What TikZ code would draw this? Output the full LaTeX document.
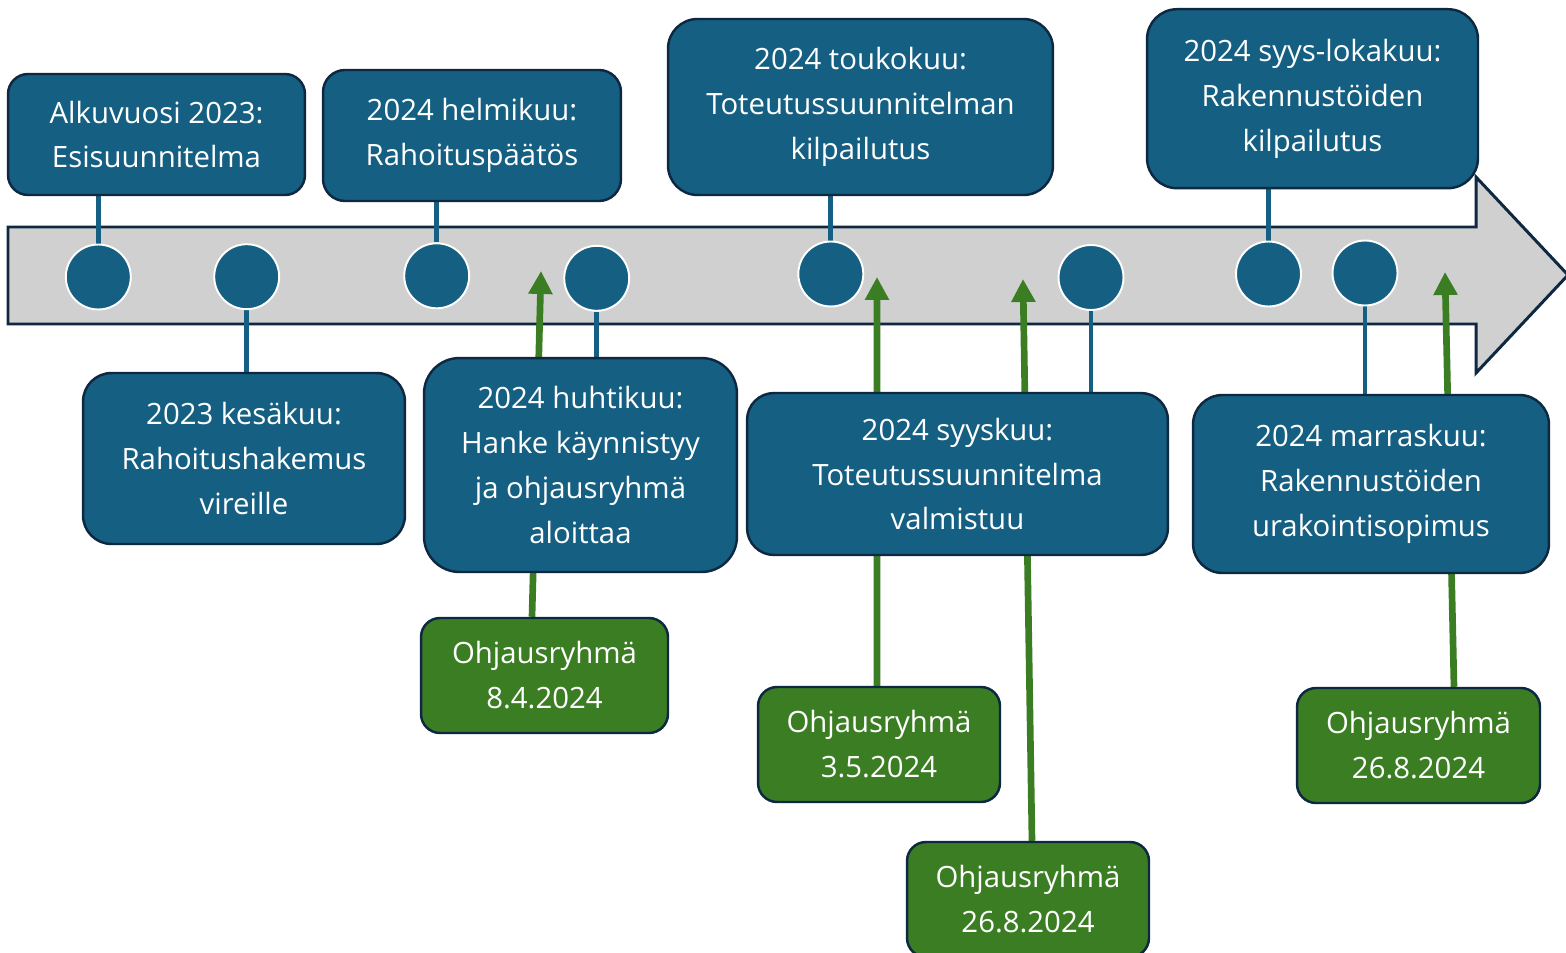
\documentclass[tikz,border=0pt]{standalone}
\usepackage{fontspec}
\setmainfont{Open Sans}
\usetikzlibrary{arrows.meta}
\definecolor{phaseblue}{HTML}{156082}
\definecolor{rimnavy}{HTML}{0E2841}
\definecolor{groupgreen}{HTML}{3B7D23}
\definecolor{shaftgray}{HTML}{D0D0D0}
\pgfdeclarelayer{shaft}
\pgfdeclarelayer{links}
\pgfsetlayers{shaft,links,main}

\begin{document}
\begin{tikzpicture}[x=0.02cm,y=-0.02cm,
    phase box/.style={draw=rimnavy,line width=1.4pt,fill=phaseblue,text=white,align=center,inner sep=0pt,font=\fontsize{16.7}{25.6}\selectfont},
    group box/.style={phase box,fill=groupgreen,minimum width=4.84cm,minimum height=2.3cm,rounded corners=0.38cm},
    time dot/.style={circle,draw=white,line width=1.1pt,fill=phaseblue,minimum size=1.3cm,inner sep=0pt},
    link/.style={draw=phaseblue,line width=2.8pt},
    group link/.style={draw=groupgreen,line width=3.8pt,-{Triangle[width=0.46cm,length=0.46cm]}}]

    \useasboundingbox (0,0) rectangle (1566,953);

    % boxes above the timeline
    \node[phase box,minimum width=5.94cm,minimum height=2.42cm,rounded corners=0.4cm] (alku) at (156.5,134.5) {Alkuvuosi 2023:\\Esisuunnitelma};
    \node[phase box,minimum width=5.96cm,minimum height=2.62cm,rounded corners=0.44cm] (helmi) at (472,135.5) {2024 helmikuu:\\Rahoituspäätös};
    \node[phase box,minimum width=7.7cm,minimum height=3.52cm,rounded corners=0.59cm] (touko) at (860.5,107) {2024 toukokuu:\\Toteutussuunnitelman\\kilpailutus};
    \node[phase box,minimum width=6.62cm,minimum height=3.58cm,rounded corners=0.6cm] (syyslok) at (1312.5,98.7) {2024 syys-lokakuu:\\Rakennustöiden\\kilpailutus};

    % boxes below the timeline
    \node[phase box,minimum width=6.44cm,minimum height=3.42cm,rounded corners=0.57cm] (kesa) at (244,458.5) {2023 kesäkuu:\\Rahoitushakemus\\vireille};
    \node[phase box,minimum width=6.26cm,minimum height=4.28cm,rounded corners=0.71cm] (huhti) at (580.5,465) {2024 huhtikuu:\\Hanke käynnistyy\\ja ohjausryhmä\\aloittaa};
    \node[phase box,minimum width=8.42cm,minimum height=3.24cm,rounded corners=0.54cm] (syys) at (957.5,474) {2024 syyskuu:\\Toteutussuunnitelma\\valmistuu};
    \node[phase box,minimum width=7.12cm,minimum height=3.56cm,rounded corners=0.59cm] (marras) at (1371,484) {2024 marraskuu:\\Rakennustöiden\\urakointisopimus};

    % steering group meetings
    \node[group box,minimum width=4.94cm] (og1) at (544.5,675.5) {Ohjausryhmä\\8.4.2024};
    \node[group box] (og2) at (879,744.5) {Ohjausryhmä\\3.5.2024};
    \node[group box] (og3) at (1028,899.5) {Ohjausryhmä\\26.8.2024};
    \node[group box,minimum width=4.86cm] (og4) at (1418.5,745.5) {Ohjausryhmä\\26.8.2024};

    % dots on the timeline
    \node[time dot] (d1) at (98.3,277) {};
    \node[time dot] (d2) at (246.7,276.7) {};
    \node[time dot] (d3) at (436.7,275.8) {};
    \node[time dot] (d4) at (596.7,278.3) {};
    \node[time dot] (d5) at (830.8,274) {};
    \node[time dot] (d6) at (1091,277.5) {};
    \node[time dot] (d7) at (1268.5,274) {};
    \node[time dot] (d8) at (1365,273) {};

    \coordinate (m1) at (541,271);
    \coordinate (m2) at (877,277);
    \coordinate (m3) at (1023,279);
    \coordinate (m4) at (1445,272);

    \begin{pgfonlayer}{shaft}
        \draw[draw=rimnavy,line width=1.7pt,fill=shaftgray] (8,227) -- (1476,227) -- (1476,177) -- (1568,275) -- (1476,373) -- (1476,324) -- (8,324) -- cycle;
    \end{pgfonlayer}

    \begin{pgfonlayer}{links}
        \path
            (d1) edge[link] (d1 |- alku.south)
            (d3) edge[link] (d3 |- helmi.south)
            (d5) edge[link] (d5 |- touko.south)
            (d7) edge[link] (d7 |- syyslok.south)
            (d2) edge[link] (d2 |- kesa.north)
            (d4) edge[link] (d4 |- huhti.north)
            (d6) edge[link] (d6 |- syys.north)
            (d8) edge[link] (d8 |- marras.north)
        ;
        \path
            ([xshift=-0.25cm]og1.north) edge[group link] (m1)
            ([xshift=-0.04cm]og2.north) edge[group link] (m2)
            ([xshift=0.08cm]og3.north) edge[group link] (m3)
            ([xshift=0.71cm]og4.north) edge[group link] (m4)
        ;
    \end{pgfonlayer}
\end{tikzpicture}
\end{document}
